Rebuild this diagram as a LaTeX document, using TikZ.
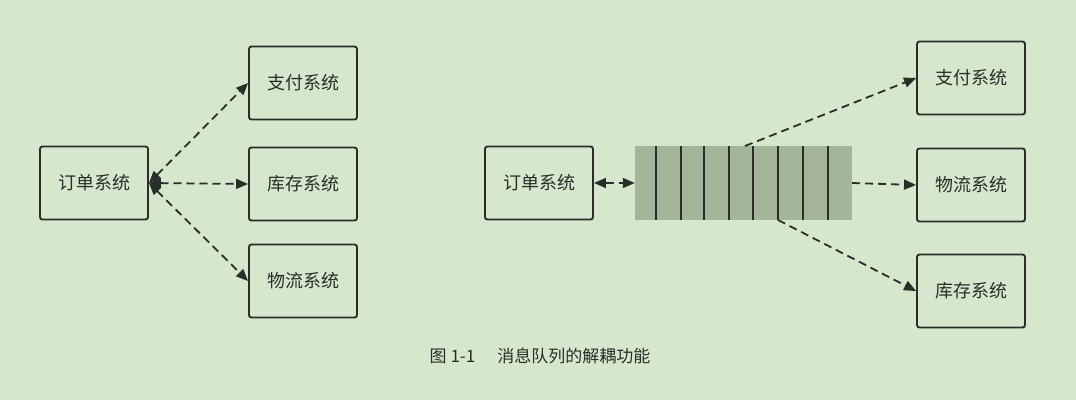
\documentclass[tikz,border=0pt]{standalone}
\usepackage{fontspec}
\newfontfamily\cjk{Noto Sans CJK SC}
\usetikzlibrary{arrows.meta}
\definecolor{bg}{HTML}{D5E7CC}
\definecolor{ink}{HTML}{2A2E2A}
\definecolor{q}{HTML}{A3B59A}
\tikzset{
  sys/.style={draw=ink,line width=1.9pt,rounded corners=2.5pt,minimum width=108pt,minimum height=73pt,font=\cjk\fontsize{18}{20}\selectfont,text=ink},
  link/.style={draw=ink,line width=1.8pt,dash pattern=on 8pt off 5pt,-{Triangle[length=12pt,width=10pt]}},
  both/.style={link,{Triangle[length=12pt,width=10pt]}-{Triangle[length=12pt,width=10pt]}}
}
\begin{document}
\begin{tikzpicture}[x=1pt,y=-1pt]
\fill[bg] (0,0) rectangle (1076,400);
\useasboundingbox (0,0) rectangle (1076,400);
\node[sys] (o1) at (94,183) {订单系统};
\node[sys] (p1) at (303,83) {支付系统};
\node[sys] (k1) at (303,184) {库存系统};
\node[sys] (w1) at (303,281) {物流系统};
\draw[both] (o1.east) -- (p1.west);
\draw[both] (o1.east) -- (k1.west);
\draw[both] (o1.east) -- (w1.west);
\node[sys] (o2) at (539,183) {订单系统};
\node[sys] (p2) at (971,78) {支付系统};
\node[sys] (w2) at (971,185) {物流系统};
\node[sys] (k2) at (971,291) {库存系统};
\node[fill=q,inner sep=0,minimum width=217pt,minimum height=74pt] (qu) at (743.5,183) {};
\foreach \x in {656,681,704,729,753,778,803,828} \draw[ink,line width=1.5pt] (\x,146) -- (\x,220);
\coordinate (qt) at (745,146);
\coordinate (qb) at (778,220);
\draw[both] (o2.east) -- (qu.west);
\draw[link] (qt) -- (p2.west);
\draw[link] (qu.east) -- (w2.west);
\draw[link] (qb) -- (k2.west);
\node[font=\cjk\fontsize{17}{20}\selectfont,text=ink] (cap) at (540,356) {图 1-1\hspace{22pt}消息队列的解耦功能};
\end{tikzpicture}
\end{document}
